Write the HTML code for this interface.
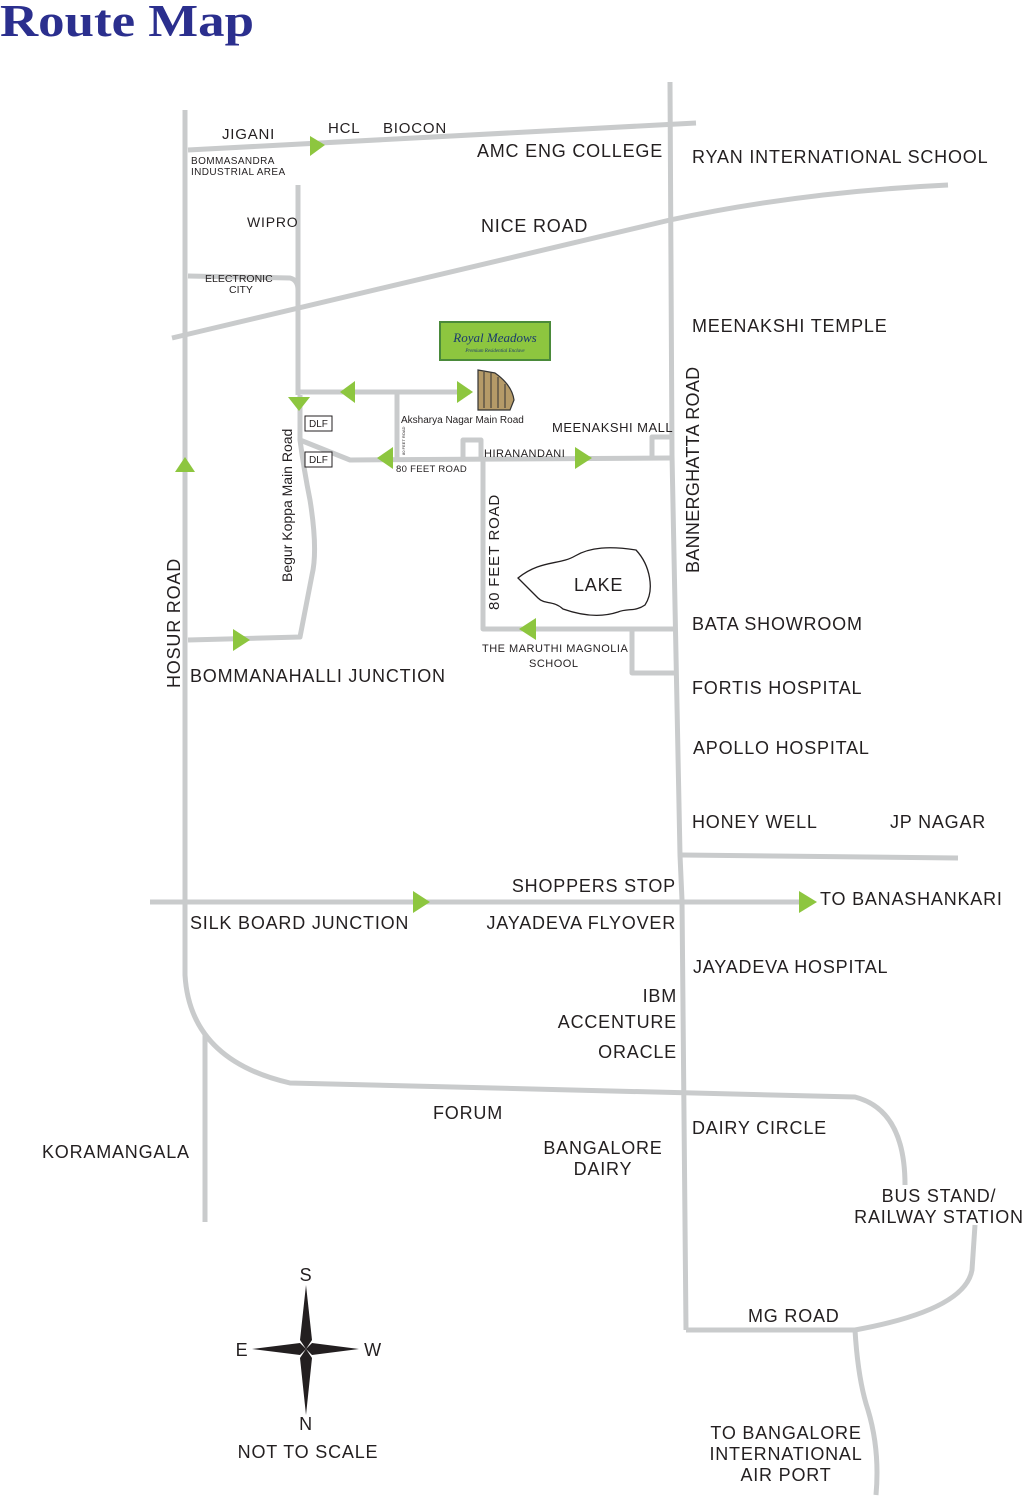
<!DOCTYPE html>
<html><head><meta charset="utf-8"><style>
html,body{margin:0;padding:0;background:#fff;}
svg{display:block;}
text{font-family:"Liberation Sans",sans-serif;fill:#231f20;}
.m text{letter-spacing:0.8px;}
</style></head><body>
<svg width="1028" height="1498" viewBox="0 0 1028 1498" xmlns="http://www.w3.org/2000/svg">
<text x="0" y="36" textLength="254" lengthAdjust="spacingAndGlyphs" style="font-family:'Liberation Serif',serif;font-weight:bold;font-size:46px;fill:#2b2f8e">Route Map</text>
<g fill="none" stroke="#c9cbcc" stroke-width="5" stroke-linejoin="round">
<path d="M185,110 L185,975 Q190,1060 290,1083 L855,1097 Q905,1110 905,1185"/>
<path d="M205,1035 L205,1222"/>
<path d="M188,150 L696,123"/>
<path d="M670,82 L672,455 L680,855 L682,900 L686,1330"/>
<path d="M172,338 L670,220 Q800,192 948,185"/>
<path d="M298,185 L298,395"/>
<path d="M188,276 L290,278 Q298,280 298,290"/>
<path d="M300,392 L470,392"/>
<path d="M397,392 L397,458"/>
<path d="M300,395 L300,440 Q304,470 310,500 Q318,550 312,575 L300,637 L188,640"/>
<path d="M300,440 L350,460 L670,458"/>
<path d="M463,458 L463,440 L481,440 L481,458"/>
<path d="M483,458 L483,629 L676,629"/>
<path d="M632,629 L632,673 L676,673"/>
<path d="M652,458 L652,437 L670,437"/>
<path d="M682,855 L958,858"/>
<path d="M150,902 L800,902"/>
<path d="M686,1330 L855,1330 Q965,1310 972,1270 L975,1225"/>
<path d="M855,1330 Q858,1380 868,1410 Q880,1450 876,1495"/>
</g>
<path d="M518,578 C540,560 560,565 575,556 C590,547 610,546 636,550 C650,565 655,590 645,605 C635,612 628,608 618,612 C600,618 580,615 563,609 C553,600 545,605 538,598 C530,590 525,585 518,578 Z" fill="none" stroke="#231f20" stroke-width="1.3"/>
<g fill="#8dc63f">
<polygon points="310,136 310,156 325,145"/>
<polygon points="175,472 195,472 185,457"/>
<polygon points="288,397 310,397 299,411"/>
<polygon points="355,381 355,403 340,392"/>
<polygon points="457,381 457,403 473,392"/>
<polygon points="393,447 393,469 377,458"/>
<polygon points="575,447 575,469 592,458"/>
<polygon points="536,618 536,640 519,629"/>
<polygon points="233,629 233,651 250,640"/>
<polygon points="413,891 413,913 430,902"/>
<polygon points="799,891 799,913 817,902"/>
</g>
<rect x="440" y="322" width="110" height="38" fill="#8dc63f" stroke="#4a8a3a" stroke-width="2"/>
<text x="495" y="342" text-anchor="middle" style="font-family:'Liberation Serif',serif;font-style:italic;font-size:13px;fill:#1a3a6e">Royal Meadows</text>
<text x="495" y="352" text-anchor="middle" style="font-family:'Liberation Serif',serif;font-style:italic;font-size:5px;fill:#1a3a6e">Premium Residential Enclave</text>
<g><path d="M478,370 L495,373 Q512,385 514,400 L510,410 L478,410Z" fill="#b59a68" stroke="#333" stroke-width="1.2"/>
<g stroke="#333" stroke-width="1"><line x1="484" y1="372" x2="484" y2="408"/><line x1="491" y1="373" x2="491" y2="408"/><line x1="498" y1="377" x2="498" y2="408"/><line x1="505" y1="384" x2="505" y2="408"/></g></g>
<g fill="#fff" stroke="#231f20" stroke-width="1"><rect x="305" y="416" width="27" height="15"/><rect x="305" y="452" width="27" height="15"/></g>
<text x="309" y="427" style="font-size:10px">DLF</text><text x="309" y="463" style="font-size:10px">DLF</text>
<g class="m" style="font-size:18px">
<text x="222" y="139" style="font-size:15px">JIGANI</text>
<text x="328" y="133" style="font-size:15px">HCL</text>
<text x="383" y="133" style="font-size:15px">BIOCON</text>
<text x="663" y="157" text-anchor="end">AMC ENG COLLEGE</text>
<text x="692" y="163">RYAN INTERNATIONAL SCHOOL</text>
<text x="481" y="232">NICE ROAD</text>
<text x="247" y="227" style="font-size:14px">WIPRO</text>
<text x="692" y="332">MEENAKSHI TEMPLE</text>
<text x="552" y="432" style="font-size:13px;letter-spacing:0.5px">MEENAKSHI MALL</text>
<text x="484" y="457" style="font-size:11px;letter-spacing:0.5px">HIRANANDANI</text>
<text x="396" y="472" style="font-size:9.5px;letter-spacing:0.3px">80 FEET ROAD</text>
<text x="401" y="423" style="font-size:10px;letter-spacing:0">Aksharya Nagar Main Road</text>
<text x="574" y="591">LAKE</text>
<text x="692" y="630">BATA SHOWROOM</text>
<text x="482" y="652" style="font-size:11px;letter-spacing:0.5px">THE MARUTHI MAGNOLIA</text>
<text x="529" y="667" style="font-size:11px;letter-spacing:0.5px">SCHOOL</text>
<text x="190" y="682">BOMMANAHALLI JUNCTION</text>
<text x="692" y="694">FORTIS HOSPITAL</text>
<text x="693" y="754">APOLLO HOSPITAL</text>
<text x="692" y="828">HONEY WELL</text>
<text x="890" y="828">JP NAGAR</text>
<text x="676" y="892" text-anchor="end">SHOPPERS STOP</text>
<text x="820" y="905">TO BANASHANKARI</text>
<text x="190" y="929">SILK BOARD JUNCTION</text>
<text x="676" y="929" text-anchor="end">JAYADEVA FLYOVER</text>
<text x="693" y="973">JAYADEVA HOSPITAL</text>
<text x="677" y="1002" text-anchor="end">IBM</text>
<text x="677" y="1028" text-anchor="end">ACCENTURE</text>
<text x="677" y="1058" text-anchor="end">ORACLE</text>
<text x="433" y="1119">FORUM</text>
<text x="692" y="1134">DAIRY CIRCLE</text>
<text x="42" y="1158">KORAMANGALA</text>
<text x="603" y="1154" text-anchor="middle">BANGALORE</text>
<text x="603" y="1175" text-anchor="middle">DAIRY</text>
<text x="939" y="1202" text-anchor="middle">BUS STAND/</text>
<text x="939" y="1223" text-anchor="middle">RAILWAY STATION</text>
<text x="748" y="1322">MG ROAD</text>
<text x="786" y="1439" text-anchor="middle">TO BANGALORE</text>
<text x="786" y="1460" text-anchor="middle">INTERNATIONAL</text>
<text x="786" y="1481" text-anchor="middle">AIR PORT</text>
<text x="306" y="1281" text-anchor="middle">S</text>
<text x="242" y="1356" text-anchor="middle">E</text>
<text x="373" y="1356" text-anchor="middle">W</text>
<text x="306" y="1430" text-anchor="middle">N</text>
<text x="308" y="1458" text-anchor="middle">NOT TO SCALE</text>
<text transform="translate(180,688) rotate(-90)">HOSUR ROAD</text>
<text transform="translate(292,582) rotate(-90)" style="font-size:14px;letter-spacing:0">Begur Koppa Main Road</text>
<text transform="translate(499,610) rotate(-90)" style="font-size:15px;letter-spacing:0.8px">80 FEET ROAD</text>
<text transform="translate(699,573) rotate(-90)" style="letter-spacing:0.3px">BANNERGHATTA ROAD</text>
</g>
<text x="191" y="164" style="font-size:10px;letter-spacing:0.4px">BOMMASANDRA</text>
<text x="191" y="175" style="font-size:10px;letter-spacing:0.4px">INDUSTRIAL AREA</text>
<text x="205" y="282" style="font-size:10.5px">ELECTRONIC</text>
<text x="229" y="293" style="font-size:10.5px">CITY</text>
<text transform="translate(405,455) rotate(-90)" style="font-size:4px">80 FEET ROAD</text>
<g fill="#231f20">
<polygon points="306,1285 312,1340 306,1349 300,1340"/>
<polygon points="306,1415 312,1358 306,1349 300,1358"/>
<polygon points="252,1349 300,1343 306,1349 300,1355"/>
<polygon points="359,1349 312,1343 306,1349 312,1355"/>
</g>
</svg>
</body></html>
